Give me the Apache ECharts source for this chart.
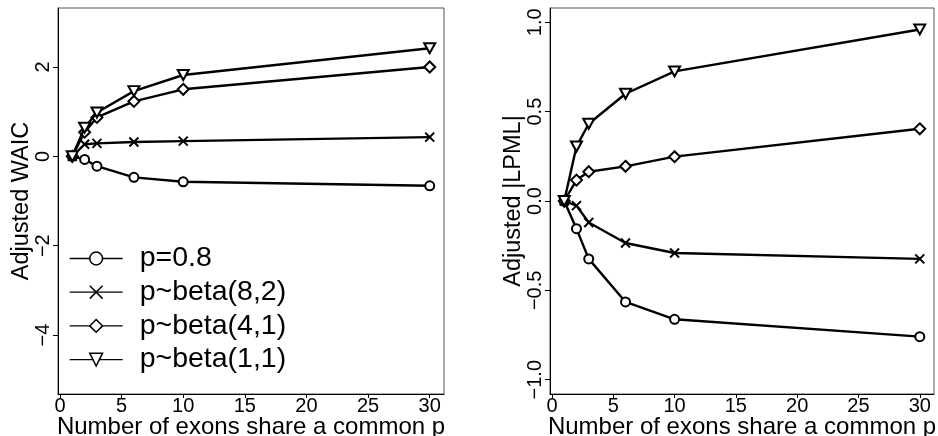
<!DOCTYPE html>
<html>
<head>
<meta charset="utf-8">
<script src="https://cdn.jsdelivr.net/npm/echarts@6/dist/echarts.min.js"></script>
<style>
  html, body { margin: 0; padding: 0; background: #fff; }
  #chart { width: 938px; height: 436px; }
</style>
</head>
<body>
<div id="chart"></div>
<script>
// number of exons sharing a common p
var nShared = [1, 2, 3, 6, 10, 30];

// adjusted WAIC (left panel)
var waicP08 = [0, -0.07, -0.22, -0.47, -0.57, -0.66];
var waicB82 = [0, 0.27, 0.29, 0.32, 0.34, 0.43];
var waicB41 = [0, 0.54, 0.87, 1.23, 1.50, 2.00];
var waicB11 = [0, 0.64, 0.98, 1.46, 1.82, 2.42];

// adjusted |LPML| (right panel)
var lpmlP08 = [0, -0.155, -0.324, -0.565, -0.662, -0.759];
var lpmlB82 = [0, -0.026, -0.12, -0.235, -0.291, -0.324];
var lpmlB41 = [0, 0.117, 0.164, 0.194, 0.248, 0.404];
var lpmlB11 = [0, 0.305, 0.432, 0.60, 0.725, 0.96];

var xTicks = [0, 5, 10, 15, 20, 25, 30];
var waicTicks = [-4, -2, 0, 2];
var lpmlTicks = [-1, -0.5, 0, 0.5, 1];

var names = ['p=0.8', 'p~beta(8,2)', 'p~beta(4,1)', 'p~beta(1,1)'];

var FONT = 'Liberation Sans';

function pairs(ys) {
  return nShared.map(function (x, i) { return [x, ys[i]]; });
}
function minus(s) { return s.replace('-', '\u2212'); }

var shapes = [
  { symbol: 'circle', size: 9, rotate: 0 },
  { symbol: 'path://M0,0L10,10M10,0L0,10', size: 9, rotate: 0 },
  { symbol: 'diamond', size: 11, rotate: 0 },
  { symbol: 'triangle', size: [11, 10], rotate: 180 }
];

function makeSeries(name, ys, k, idx) {
  return {
    name: name,
    type: 'line',
    xAxisIndex: idx,
    yAxisIndex: idx,
    data: pairs(ys),
    symbol: shapes[k].symbol,
    symbolSize: shapes[k].size,
    symbolRotate: shapes[k].rotate,
    showAllSymbol: true,
    lineStyle: { color: '#000', width: 2.4 },
    itemStyle: { color: '#fff', borderColor: '#000', borderWidth: 2 },
    emphasis: { disabled: true },
    z: 2 + k
  };
}

function xAxisOf(idx) {
  return {
    type: 'value',
    gridIndex: idx,
    min: -0.16,
    max: 31.16,
    name: 'Number of exons share a common p',
    nameLocation: 'middle',
    nameGap: 21,
    nameMoveOverlap: false,
    nameTextStyle: { fontFamily: FONT, fontSize: 24, color: '#000' },
    axisLine: { show: true, onZero: false, lineStyle: { color: '#000', width: 1 } },
    axisTick: { show: true, length: 4, customValues: xTicks, lineStyle: { color: '#000' } },
    axisLabel: {
      customValues: xTicks, margin: 2,
      fontFamily: FONT, fontSize: 20, color: '#000'
    },
    splitLine: { show: false }
  };
}

function yAxisOf(idx, lo, hi, ticks, name, fmt) {
  return {
    type: 'value',
    gridIndex: idx,
    min: lo,
    max: hi,
    name: name,
    nameLocation: 'middle',
    nameGap: 24,
    nameMoveOverlap: false,
    nameTextStyle: { fontFamily: FONT, fontSize: 23.5, color: '#000' },
    axisLine: { show: true, onZero: false, lineStyle: { color: '#000', width: 1 } },
    axisTick: { show: true, length: 5, customValues: ticks, lineStyle: { color: '#000' } },
    axisLabel: {
      customValues: ticks, rotate: 90, margin: 5,
      fontFamily: FONT, fontSize: 20, color: '#000',
      formatter: fmt
    },
    splitLine: { show: false }
  };
}

var chart = echarts.init(document.getElementById('chart'));
chart.setOption({
  animation: false,
  backgroundColor: '#fff',
  grid: [
    { left: 58, top: 8, width: 386, height: 386, outerBoundsMode: 'none', containLabel: false,
      show: true, borderColor: '#555', borderWidth: 1 },
    { left: 550, top: 8, width: 384, height: 386, outerBoundsMode: 'none', containLabel: false,
      show: true, borderColor: '#555', borderWidth: 1 }
  ],
  legend: {
    data: names,
    orient: 'vertical',
    left: 64,
    top: 239,
    itemWidth: 53,
    itemHeight: 16,
    itemGap: 4.7,
    selectedMode: false,
    lineStyle: { width: 1.3 },
    itemStyle: { borderWidth: 1.5 },
    textStyle: { fontFamily: FONT, fontSize: 28.5, color: '#000', lineHeight: 28, padding: [0, 0, 0, 12] }
  },
  xAxis: [xAxisOf(0), xAxisOf(1)],
  yAxis: [
    yAxisOf(0, -5.32, 3.32, waicTicks, 'Adjusted WAIC', function (v) { return minus(String(v)); }),
    yAxisOf(1, -1.08, 1.08, lpmlTicks, 'Adjusted |LPML|', function (v) { return minus(v.toFixed(1)); })
  ],
  series: [
    makeSeries(names[0], waicP08, 0, 0),
    makeSeries(names[1], waicB82, 1, 0),
    makeSeries(names[2], waicB41, 2, 0),
    makeSeries(names[3], waicB11, 3, 0),
    makeSeries(names[0], lpmlP08, 0, 1),
    makeSeries(names[1], lpmlB82, 1, 1),
    makeSeries(names[2], lpmlB41, 2, 1),
    makeSeries(names[3], lpmlB11, 3, 1)
  ]
});
</script>
</body>
</html>
